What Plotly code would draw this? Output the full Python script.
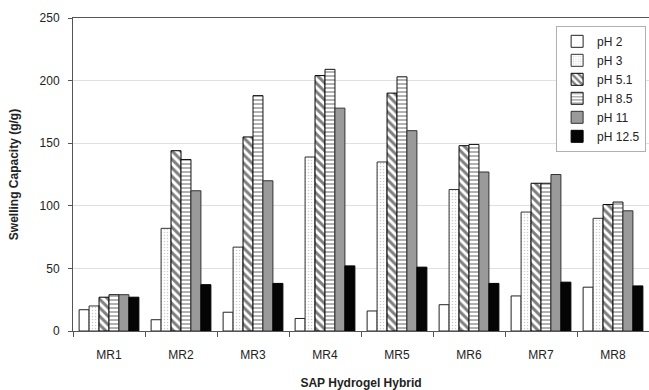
import plotly.graph_objects as go

# Swelling capacity of each SAP hydrogel hybrid at six pH levels
hybrids = ["MR1", "MR2", "MR3", "MR4", "MR5", "MR6", "MR7", "MR8"]

ph_2 = [17, 9, 15, 10, 16, 21, 28, 35]
ph_3 = [20, 82, 67, 139, 135, 113, 95, 90]
ph_5_1 = [27, 144, 155, 204, 190, 148, 118, 101]
ph_8_5 = [29, 137, 188, 209, 203, 149, 118, 103]
ph_11 = [29, 112, 120, 178, 160, 127, 125, 96]
ph_12_5 = [27, 37, 38, 52, 51, 38, 39, 36]

series = [
    ("pH 2", ph_2, dict(color="white", line=dict(color="#222", width=1))),
    ("pH 3", ph_3, dict(color="white", line=dict(color="#333", width=1),
                        pattern=dict(shape=".", size=3, solidity=0.2,
                                     fgcolor="#999", bgcolor="white"))),
    ("pH 5.1", ph_5_1, dict(color="white", line=dict(color="#000", width=1),
                            pattern=dict(shape="\\", size=6, solidity=0.5,
                                         fgcolor="#000", bgcolor="white"))),
    ("pH 8.5", ph_8_5, dict(color="white", line=dict(color="#111", width=1),
                            pattern=dict(shape="-", size=4, solidity=0.35,
                                         fgcolor="#222", bgcolor="white"))),
    ("pH 11", ph_11, dict(color="#9a9a9a", line=dict(color="#333", width=1))),
    ("pH 12.5", ph_12_5, dict(color="#050505", line=dict(color="#000", width=1))),
]

fig = go.Figure()
for name, values, marker in series:
    fig.add_trace(go.Bar(name=name, x=hybrids, y=values, marker=marker))

font = "Liberation Sans, Arial, sans-serif"

fig.update_layout(
    width=649,
    height=390,
    margin=dict(l=73, r=0, t=18, b=59),
    paper_bgcolor="white",
    plot_bgcolor="white",
    barmode="group",
    bargap=0.17,
    bargroupgap=0,
    font=dict(family=font, size=12, color="#222"),
    showlegend=True,
    legend=dict(
        x=0.995, y=0.975, xanchor="right", yanchor="top",
        bgcolor="white", bordercolor="#b0b0b0", borderwidth=1,
        font=dict(family=font, size=12, color="#222"),
        itemwidth=30,
    ),
    xaxis=dict(
        title=dict(text="<b>SAP Hydrogel Hybrid</b>", font=dict(size=12), standoff=17),
        tickson="boundaries",
        ticks="outside", ticklen=5, tickcolor="#555",
        ticklabelstandoff=13,
        showline=True, linecolor="#555", linewidth=1, mirror=True,
        showgrid=False,
        tickfont=dict(size=12),
    ),
    yaxis=dict(
        title=dict(text="<b>Swelling Capacity (g/g)</b>", font=dict(size=12), standoff=18),
        range=[0, 250],
        tickvals=[0, 50, 100, 150, 200, 250],
        ticks="outside", ticklen=4, tickcolor="#555",
        ticklabelstandoff=6,
        showline=True, linecolor="#555", linewidth=1,
        showgrid=True, gridcolor="#e0e0e0", gridwidth=1,
        zeroline=False,
        tickfont=dict(size=12),
    ),
)

fig.write_html("out.html")
